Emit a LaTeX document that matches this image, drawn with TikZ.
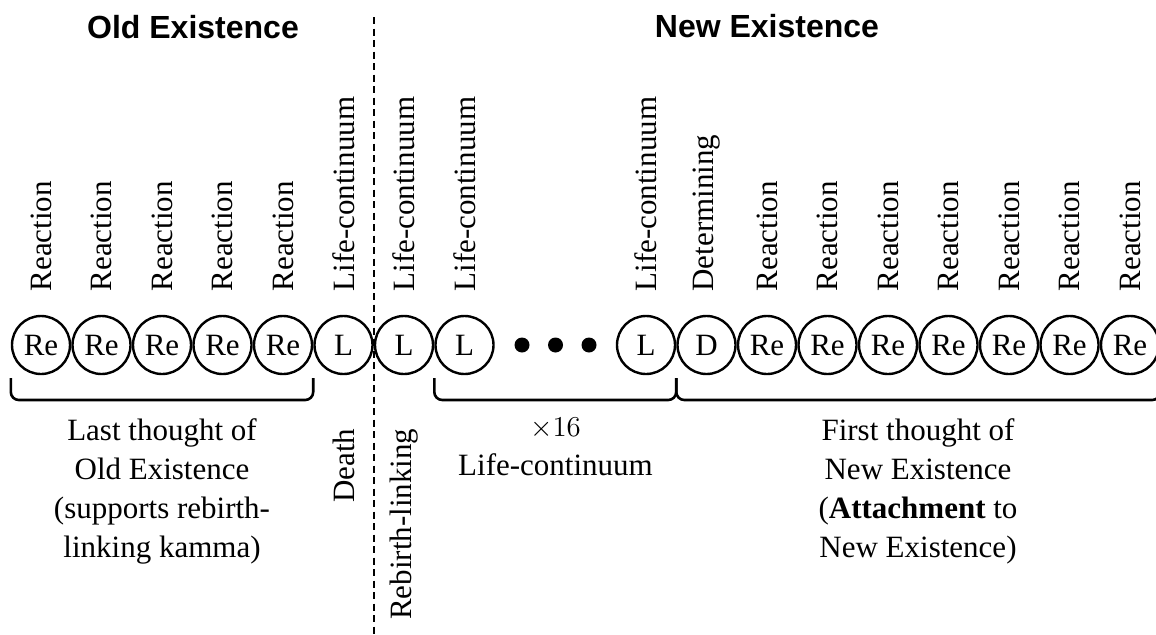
\documentclass[tikz,border=0pt]{standalone}
\usepackage{fontspec}
\setmainfont{Liberation Serif}
\newfontfamily\headfont{Liberation Sans}
\usepackage{tikz}

\begin{document}
\begin{tikzpicture}[x=0.5pt,y=0.5pt,font=\fontsize{15.5}{19.5}\selectfont,
  thought node/.style={circle,draw,line width=1.2pt,minimum size=29pt,inner sep=0pt},
  top label/.style={rotate=90,anchor=west,inner sep=0pt},
  side label/.style={rotate=90,anchor=east,inner sep=0pt},
  bottom label/.style={align=center,anchor=north,inner sep=0pt},
  head label/.style={anchor=base,font={\headfont\bfseries\fontsize{16}{19}\selectfont}},
  dot/.style={circle,fill,minimum size=7.5pt,inner sep=0pt},
  bracket/.style={line width=1.3pt,rounded corners=4pt},
  divider/.style={line width=1.1pt,dash pattern=on 3.5pt off 2.25pt}]
  \useasboundingbox (0,0) rectangle (1156,634);

  % headings
  \node[head label] (old) at (193,596) {Old Existence};
  \node[head label] (new) at (767,597) {New Existence};

  % thought moments
  \node[thought node] (o1) at (41,289) {Re};
  \node[thought node] (o2) at (101.5,289) {Re};
  \node[thought node] (o3) at (162,289) {Re};
  \node[thought node] (o4) at (222.5,289) {Re};
  \node[thought node] (o5) at (283,289) {Re};
  \node[thought node] (l1) at (343.5,289) {L};
  \node[thought node] (l2) at (404,289) {L};
  \node[thought node] (l3) at (464.5,289) {L};
  \node[dot] (dot1) at (522,289) {};
  \node[dot] (dot2) at (555.5,289) {};
  \node[dot] (dot3) at (589,289) {};
  \node[thought node] (l4) at (646,289) {L};
  \node[thought node] (d) at (706.5,289) {D};
  \node[thought node] (n1) at (767,289) {Re};
  \node[thought node] (n2) at (827.5,289) {Re};
  \node[thought node] (n3) at (888,289) {Re};
  \node[thought node] (n4) at (948.5,289) {Re};
  \node[thought node] (n5) at (1009,289) {Re};
  \node[thought node] (n6) at (1069.5,289) {Re};
  \node[thought node] (n7) at (1130,289) {Re};

  % names above
  \node[top label] (to1) at ([yshift=11.5pt]o1.north) {Reaction};
  \node[top label] (to2) at ([yshift=11.5pt]o2.north) {Reaction};
  \node[top label] (to3) at ([yshift=11.5pt]o3.north) {Reaction};
  \node[top label] (to4) at ([yshift=11.5pt]o4.north) {Reaction};
  \node[top label] (to5) at ([yshift=11.5pt]o5.north) {Reaction};
  \node[top label] (tl1) at ([yshift=11.5pt]l1.north) {Life-continuum};
  \node[top label] (tl2) at ([yshift=11.5pt]l2.north) {Life-continuum};
  \node[top label] (tl3) at ([yshift=11.5pt]l3.north) {Life-continuum};
  \node[top label] (tl4) at ([yshift=11.5pt]l4.north) {Life-continuum};
  \node[top label] (td) at ([yshift=11.5pt]d.north) {Determining};
  \node[top label] (tn1) at ([yshift=11.5pt]n1.north) {Reaction};
  \node[top label] (tn2) at ([yshift=11.5pt]n2.north) {Reaction};
  \node[top label] (tn3) at ([yshift=11.5pt]n3.north) {Reaction};
  \node[top label] (tn4) at ([yshift=11.5pt]n4.north) {Reaction};
  \node[top label] (tn5) at ([yshift=11.5pt]n5.north) {Reaction};
  \node[top label] (tn6) at ([yshift=11.5pt]n6.north) {Reaction};
  \node[top label] (tn7) at ([yshift=11.5pt]n7.north) {Reaction};

  % brackets
  \draw[bracket] ([yshift=-16.5pt]o1.west) -- ++(0,-22) -| ([yshift=-16.5pt]o5.east);
  \draw[bracket] ([yshift=-16.5pt]l3.west) -- ++(0,-22) -| ([yshift=-16.5pt]l4.east);
  \draw[bracket] ([yshift=-16.5pt]d.west) -- ++(0,-22) -| ([yshift=-16.5pt]n7.east);

  % texts below
  \node[bottom label] (lastthought) at (162,216) {Last thought of\\Old Existence\\(supports rebirth-\\linking kamma)};
  \node[side label] (death) at ([yshift=-26.5pt]l1.south) {Death};
  \node[side label] (rebirth) at ([yshift=-26.5pt]l2.south) {Rebirth-linking};
  \node[bottom label] (sixteen) at (555.5,216) {$\times16$\\Life-continuum};
  \node[bottom label] (firstthought) at (918,216) {First thought of\\New Existence\\(\textbf{Attachment} to\\New Existence)};

  % border between the two lives
  \draw[divider] (374,617) -- (374,0);
\end{tikzpicture}
\end{document}
